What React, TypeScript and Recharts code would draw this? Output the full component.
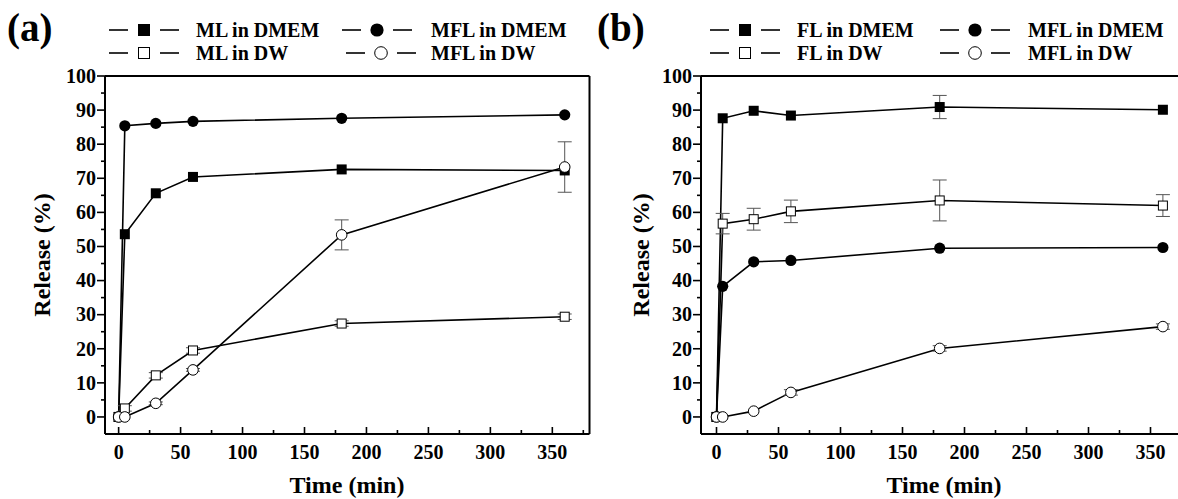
import React from 'react';
import { LineChart, Line, XAxis, YAxis, ErrorBar, ReferenceLine } from 'recharts';

const FONT = "'Liberation Serif', 'Times New Roman', serif";

// shared
const times = [0, 5, 30, 60, 180, 360];
const xTicks = [0, 25, 50, 75, 100, 125, 150, 175, 200, 225, 250, 275, 300, 325, 350, 375];
const yTicks = [0, 5, 10, 15, 20, 25, 30, 35, 40, 45, 50, 55, 60, 65, 70, 75, 80, 85, 90, 95, 100];
const yDomain: [number, number] = [-5, 100];

// panel (a)
const aLabels = ['ML in DMEM', 'MFL in DMEM', 'ML in DW', 'MFL in DW'];
const mlDmem = [0, 53.6, 65.6, 70.4, 72.6, 72.3];
const mflDmemA = [0, 85.4, 86.1, 86.7, 87.6, 88.6];
const mlDw = [0, 2.5, 12.2, 19.5, 27.4, 29.4];
const mlDwErr = [null, 0.8, 0.8, 0.8, 0.8, 0.8];
const mflDwA = [0, 0, 4.0, 13.8, 53.4, 73.3];
const mflDwAErr = [null, null, 0.4, 0.4, 4.4, 7.4];

// panel (b)
const bLabels = ['FL in DMEM', 'MFL in DMEM', 'FL in DW', 'MFL in DW'];
const flDmem = [0, 87.6, 89.8, 88.4, 90.9, 90.1];
const flDmemErr = [null, null, null, null, 3.4, null];
const mflDmemB = [0, 38.3, 45.5, 45.9, 49.5, 49.7];
const flDw = [0, 56.7, 58.0, 60.3, 63.5, 62.0];
const flDwErr = [null, 3.0, 3.2, 3.3, 6.0, 3.2];
const mflDwB = [0, 0, 1.7, 7.2, 20.1, 26.5];
const mflDwBErr = [null, null, null, 0.8, 0.8, 0.8];

const buildRows = (series: Record<string, (number | null)[]>) =>
  times.map((t, i) => {
    const row: any = { t };
    Object.keys(series).forEach((k) => {
      row[k] = series[k][i];
    });
    return row;
  });

const dataA = buildRows({ s1: mlDmem, s2: mflDmemA, s3: mlDw, s3e: mlDwErr, s4: mflDwA, s4e: mflDwAErr });
const dataB = buildRows({ s1: flDmem, s1e: flDmemErr, s2: mflDmemB, s3: flDw, s3e: flDwErr, s4: mflDwB, s4e: mflDwBErr });

type Kind = 'fsq' | 'fci' | 'osq' | 'oci';

const Marker = ({ cx, cy, kind, size = 10 }: { cx: number; cy: number; kind: Kind; size?: number }) => {
  const h = size / 2;
  if (kind === 'fsq') return <rect x={cx - h} y={cy - h} width={size} height={size} fill="#000" />;
  if (kind === 'osq')
    return <rect x={cx - h + 0.5} y={cy - h + 0.5} width={size - 1} height={size - 1} fill="#fff" stroke="#000" strokeWidth={1} />;
  if (kind === 'fci') return <circle cx={cx} cy={cy} r={h + 0.6} fill="#000" />;
  return <circle cx={cx} cy={cy} r={h + 0.3} fill="#fff" stroke="#000" strokeWidth={1} />;
};

const makeDot = (kind: Kind, name: string) => (props: any) => {
  const { cx, cy, index } = props;
  if (cx == null || cy == null) return <g key={`${name}-${index}`} />;
  return (
    <g key={`${name}-${index}`}>
      <Marker cx={cx} cy={cy} kind={kind} />
    </g>
  );
};

const tickTextStyle = { fontFamily: FONT, fontWeight: 700, fontSize: 20 };

const XTick = (props: any) => {
  const { x, y, payload } = props;
  const v = payload.value;
  const major = v % 50 === 0;
  return (
    <g>
      <line x1={x} x2={x} y1={y} y2={y - (major ? 7 : 4)} stroke="#000" strokeWidth={1.6} />
      {major && (
        <text x={x} y={y + 25} textAnchor="middle" fill="#000" style={tickTextStyle}>
          {v}
        </text>
      )}
    </g>
  );
};

const YTick = (props: any) => {
  const { x, y, payload } = props;
  const v = payload.value;
  const major = v % 10 === 0;
  return (
    <g>
      <line x1={x} x2={x - (major ? 8 : 4)} y1={y} y2={y} stroke="#000" strokeWidth={1.6} />
      {major && (
        <text x={x - 9} y={y} dy="0.34em" textAnchor="end" fill="#000" style={tickTextStyle}>
          {v}
        </text>
      )}
    </g>
  );
};

const lineProps = {
  type: 'linear' as const,
  stroke: '#000',
  strokeWidth: 1.6,
  activeDot: false as const,
  isAnimationActive: false,
  connectNulls: true,
};

const errProps = { width: 7, stroke: '#555', strokeWidth: 1, direction: 'y' as const };

const Panel = ({
  data,
  width,
  marginLeft,
  marginRight,
  xDomain,
  kinds,
}: {
  data: any[];
  width: number;
  marginLeft: number;
  marginRight: number;
  xDomain: [number, number];
  kinds: Kind[];
}) => (
  <LineChart width={width} height={499} data={data} margin={{ top: 76, right: marginRight, bottom: 25, left: marginLeft }}>
    <XAxis
      dataKey="t"
      type="number"
      domain={xDomain}
      allowDataOverflow
      ticks={xTicks}
      interval={0}
      tick={(p: any) => <XTick {...p} />}
      tickLine={false}
      tickSize={0}
      tickMargin={0}
      height={40}
      axisLine={{ stroke: '#000', strokeWidth: 2 }}
    />
    <YAxis
      type="number"
      domain={yDomain}
      allowDataOverflow
      ticks={yTicks}
      interval={0}
      tick={(p: any) => <YTick {...p} />}
      tickLine={false}
      tickSize={0}
      tickMargin={0}
      width={60}
      axisLine={{ stroke: '#000', strokeWidth: 2 }}
    />
    <ReferenceLine y={100} stroke="#000" strokeWidth={2} />
    <ReferenceLine x={xDomain[1]} stroke="#000" strokeWidth={2} />
    <Line {...lineProps} dataKey="s1" dot={makeDot(kinds[0], 's1')} />
    <Line {...lineProps} dataKey="s2" dot={makeDot(kinds[1], 's2')} />
    <Line {...lineProps} dataKey="s3" dot={makeDot(kinds[2], 's3')} />
    <Line {...lineProps} dataKey="s4" dot={makeDot(kinds[3], 's4')} />
    {data[0].hasOwnProperty('s1e') && (
      <Line {...lineProps} dataKey="s1" stroke="none" dot={false}>
        <ErrorBar dataKey="s1e" {...errProps} />
      </Line>
    )}
    <Line {...lineProps} dataKey="s3" stroke="none" dot={false}>
      <ErrorBar dataKey="s3e" {...errProps} />
    </Line>
    <Line {...lineProps} dataKey="s4" stroke="none" dot={false}>
      <ErrorBar dataKey="s4e" {...errProps} />
    </Line>
  </LineChart>
);

const LegendItem = ({ x, y, kind, label, tx }: { x: number; y: number; kind: Kind; label: string; tx: number }) => (
  <g>
    <line x1={x} x2={x + 19} y1={y} y2={y} stroke="#000" strokeWidth={1.6} />
    <line x1={x + 51} x2={x + 70} y1={y} y2={y} stroke="#000" strokeWidth={1.6} />
    <Marker cx={x + 35} cy={y} kind={kind} size={12} />
    <text x={tx} y={y} dy="0.34em" fill="#000" style={{ fontFamily: FONT, fontWeight: 700, fontSize: 20 }}>
      {label}
    </text>
  </g>
);

const titleStyle = (size: number) => ({ fontFamily: FONT, fontWeight: 700, fontSize: size });

export default function App() {
  const kinds: Kind[] = ['fsq', 'fci', 'osq', 'oci'];
  return (
    <div
      style={{
        position: 'absolute',
        left: 0,
        top: 0,
        width: 1178,
        height: 499,
        overflow: 'hidden',
        background: '#fff',
        fontFamily: FONT,
      }}
    >
      <div style={{ position: 'absolute', left: 0, top: 0 }}>
        <Panel data={dataA} width={592} marginLeft={45} marginRight={2.5} xDomain={[-11, 380]} kinds={kinds} />
      </div>
      <div style={{ position: 'absolute', left: 590, top: 0 }}>
        <Panel data={dataB} width={600} marginLeft={51} marginRight={2.3} xDomain={[-12.5, 380]} kinds={kinds} />
      </div>
      <svg width={1178} height={499} style={{ position: 'absolute', left: 0, top: 0, pointerEvents: 'none' }}>
        <text x={7} y={41} fill="#000" style={titleStyle(39)}>(a)</text>
        <text x={597} y={41} fill="#000" style={titleStyle(39)}>(b)</text>
        <LegendItem x={109} y={30} kind="fsq" label={aLabels[0]} tx={196} />
        <LegendItem x={342} y={30} kind="fci" label={aLabels[1]} tx={431} />
        <LegendItem x={109} y={53} kind="osq" label={aLabels[2]} tx={196} />
        <LegendItem x={346} y={53} kind="oci" label={aLabels[3]} tx={431} />
        <LegendItem x={710} y={30} kind="fsq" label={bLabels[0]} tx={797} />
        <LegendItem x={940} y={30} kind="fci" label={bLabels[1]} tx={1028} />
        <LegendItem x={710} y={53} kind="osq" label={bLabels[2]} tx={797} />
        <LegendItem x={940} y={53} kind="oci" label={bLabels[3]} tx={1028} />
        <text x={42} y={255} dy="0.34em" textAnchor="middle" transform="rotate(-90 42 255)" fill="#000" style={titleStyle(24)}>
          Release (%)
        </text>
        <text x={641} y={255} dy="0.34em" textAnchor="middle" transform="rotate(-90 641 255)" fill="#000" style={titleStyle(24)}>
          Release (%)
        </text>
        <text x={347} y={493} textAnchor="middle" fill="#000" style={titleStyle(24)}>
          Time (min)
        </text>
        <text x={944} y={493} textAnchor="middle" fill="#000" style={titleStyle(24)}>
          Time (min)
        </text>
      </svg>
    </div>
  );
}
